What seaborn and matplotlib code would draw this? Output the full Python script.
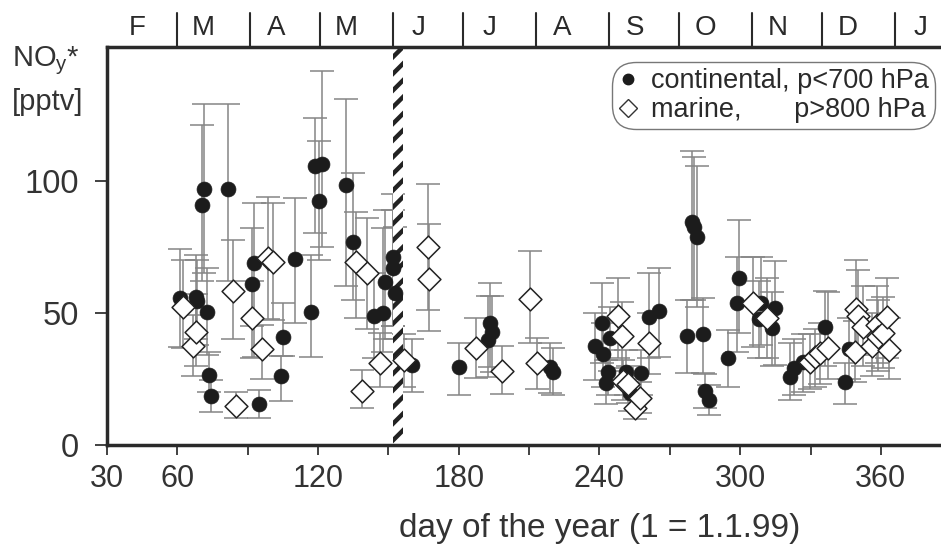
import numpy as np
import pandas as pd
import matplotlib
matplotlib.use("Agg")
import matplotlib.pyplot as plt
import matplotlib.transforms as mtransforms
from matplotlib.lines import Line2D
import seaborn as sns

# ---------------- data ----------------
cont_day = [61.1, 68.0, 68.4, 70.4, 71.4, 72.5, 73.4, 74.2, 81.5, 92.0, 92.7, 94.8,
            104.2, 104.9, 110.2, 117.0, 118.7, 120.5, 121.5, 131.9, 134.8, 144.0,
            147.9, 148.5, 152.1, 152.1, 152.8, 159.9, 180.2, 192.3, 193.3, 194.3,
            218.9, 220.3, 238.1, 240.9, 241.6, 242.8, 243.8, 244.5, 251.2, 253.0,
            257.7, 261.3, 265.4, 277.5, 279.6, 280.5, 281.5, 284.0, 285.1, 286.7,
            295.0, 298.8, 299.6, 308.1, 309.1, 313.7, 314.9, 321.3, 323.1, 326.9,
            336.2, 344.7, 346.4]
cont_val = [55.5, 56.0, 54.5, 90.7, 96.7, 50.4, 26.6, 18.5, 96.7, 61.0, 68.7, 15.4,
            26.0, 41.0, 70.3, 50.4, 105.5, 92.4, 106.3, 98.3, 76.9, 48.9,
            50.0, 61.5, 71.2, 67.0, 57.3, 30.2, 29.6, 39.7, 46.0, 42.8,
            29.6, 27.7, 37.6, 46.0, 34.4, 23.6, 27.7, 40.3, 27.7, 19.5,
            27.1, 48.5, 50.8, 41.2, 84.5, 82.5, 78.8, 41.9, 20.5, 17.0,
            33.0, 53.6, 63.3, 47.6, 53.6, 44.3, 51.9, 25.6, 29.2, 31.3,
            44.5, 23.9, 36.3]
cont_lo = [37.0, 40.0, 38.0, 62.0, 65.0, 34.0, 20.0, 12.6, 62.0, 45.0, 33.4, 10.2,
           16.6, 33.6, 46.2, 33.3, 80.0, 70.0, 75.0, 60.0, 55.0, 33.0,
           35.0, 40.0, 45.0, 45.0, 40.0, 20.2, 18.8, 25.7, 29.5, 27.5,
           19.5, 18.9, 24.6, 31.0, 22.0, 15.5, 19.0, 28.0, 19.0, 13.0,
           19.0, 33.0, 33.4, 27.3, 55.0, 54.8, 52.3, 27.1, 14.0, 11.3,
           21.8, 35.3, 42.2, 33.0, 38.0, 30.0, 30.2, 17.0, 19.0, 20.0,
           30.0, 15.5, 25.0]
cont_hi = [74.0, 72.0, 70.0, 121.0, 129.0, 67.0, 35.0, 24.6, 129.0, 82.0, 91.5, 20.8,
           33.6, 53.8, 93.3, 72.0, 123.5, 115.0, 141.4, 130.8, 102.7, 65.0,
           82.0, 89.0, 95.0, 89.0, 82.5, 40.0, 38.5, 56.4, 61.2, 56.4,
           38.5, 36.7, 50.0, 61.4, 46.0, 32.0, 36.0, 52.0, 36.0, 26.0,
           36.0, 64.9, 67.0, 54.8, 111.3, 109.0, 105.6, 55.6, 27.0, 22.7,
           43.5, 71.2, 85.0, 62.0, 71.0, 58.0, 69.6, 38.4, 40.0, 42.0,
           58.2, 31.1, 48.0]

mar_day = [62.5, 66.5, 67.9, 83.9, 85.0, 91.7, 96.0, 98.5, 100.7, 136.2, 138.6,
           140.7, 146.4, 156.7, 167.0, 167.4, 187.4, 198.6, 210.4, 213.2, 248.0,
           249.5, 250.2, 252.3, 255.2, 257.5, 261.3, 305.3, 311.3, 329.8, 331.9,
           334.1, 337.6, 349.0, 349.4, 350.4, 352.2, 356.1, 358.2, 358.9, 361.0,
           362.5, 363.6]
mar_val = [52.0, 37.5, 42.8, 58.3, 14.7, 48.2, 36.3, 70.6, 69.1, 69.2, 20.5,
           65.1, 31.1, 32.1, 75.0, 62.6, 36.5, 28.1, 55.2, 30.9, 48.8,
           41.2, 24.3, 23.0, 13.9, 17.7, 38.7, 53.8, 48.0, 31.5, 33.4,
           34.7, 36.8, 35.3, 51.4, 48.8, 44.7, 37.4, 45.4, 40.7, 42.5,
           48.3, 35.9]
mar_lo = [36.7, 26.0, 30.0, 40.0, 10.1, 33.0, 24.8, 47.5, 47.3, 48.0, 14.0,
          44.0, 21.8, 22.0, 51.0, 43.2, 25.2, 19.2, 38.4, 21.0, 33.0,
          29.0, 17.0, 16.0, 9.7, 12.0, 27.0, 37.0, 33.0, 21.0, 22.0,
          23.0, 25.0, 24.0, 35.0, 34.0, 30.0, 26.0, 31.0, 28.0, 29.0,
          33.0, 25.0]
mar_hi = [70.0, 49.0, 57.0, 77.5, 19.9, 62.0, 45.4, 93.9, 91.4, 88.0, 28.4,
          86.0, 42.2, 42.0, 98.7, 83.4, 47.9, 37.4, 73.5, 40.6, 63.0,
          54.0, 32.0, 30.0, 18.5, 24.0, 50.0, 71.0, 63.0, 42.0, 44.0,
          46.0, 58.0, 47.0, 70.0, 66.0, 60.0, 50.0, 60.0, 55.0, 56.0,
          63.0, 48.0]

month_letters = ["F", "M", "A", "M", "J", "J", "A", "S", "O", "N", "D", "J"]
month_starts = [32, 60, 91, 121, 152, 182, 213, 244, 274, 305, 335, 366]
xtick_days = [30, 60, 90, 120, 150, 180, 210, 240, 270, 300, 330, 360]
xtick_labels = ["30", "60", "", "120", "", "180", "", "240", "", "300", "", "360"]
ytick_vals = [0, 50, 100]
ytick_labels = ["0", "50", "100"]
mark_day = (151.8, 156.2)

label_cont = "continental, p<700 hPa"
label_mar = "marine,       p>800 hPa"

# ---------------- style ----------------
sns.set_theme(style="white")
plt.rcParams['font.family'] = ['Liberation Sans', 'DejaVu Sans']
plt.rcParams['hatch.linewidth'] = 3.2

cont = pd.DataFrame({"day": cont_day, "val": cont_val, "lo": cont_lo, "hi": cont_hi})
mar = pd.DataFrame({"day": mar_day, "val": mar_val, "lo": mar_lo, "hi": mar_hi})

fig = plt.figure(figsize=(9.41, 5.45), dpi=100)
ax = fig.add_axes([107 / 941, 1 - 445 / 545, (941 - 107) / 941, (445 - 47) / 545])

ebar_col = "#858585"
for df in (cont, mar):
    ax.errorbar(df["day"], df["val"], yerr=[df["val"] - df["lo"], df["hi"] - df["val"]],
                fmt="none", ecolor=ebar_col, elinewidth=1.1, capsize=8.5, capthick=1.1,
                zorder=2)

ax.axvspan(mark_day[0], mark_day[1], facecolor="white", edgecolor="#222222",
           hatch="//", linewidth=0, zorder=2.5)

sns.scatterplot(data=cont, x="day", y="val", ax=ax, marker="o", s=115,
                color="#1c1c1c", edgecolor="#1c1c1c", linewidth=0.5, zorder=3,
                legend=False)
sns.scatterplot(data=mar, x="day", y="val", ax=ax, marker="D", s=135,
                color="white", edgecolor="#222222", linewidth=1.1, zorder=4,
                legend=False)

ax.set_xlim(30, 30 + (941 - 107) / 2.345)
ax.set_ylim(0, 150.5)

ax.set_xticks(xtick_days)
ax.set_xticklabels(xtick_labels)
ax.set_yticks(ytick_vals)
ax.set_yticklabels(ytick_labels)
ax.set_yticks(np.arange(0, 151, 10), minor=True)
ax.tick_params(axis="x", which="major", direction="out", length=7, width=1.3,
               color="#333333", labelsize=22, labelcolor="#333333", pad=7)
ax.tick_params(axis="y", which="both", direction="out", length=9, width=1.3,
               color="#333333", labelsize=23.5, labelcolor="#333333", pad=11)
ax.tick_params(left=True, bottom=True)

for side in ("left", "bottom", "top"):
    ax.spines[side].set_linewidth(2.5)
    ax.spines[side].set_color("#2a2a2a")
ax.spines["right"].set_visible(False)

ax.set_xlabel("day of the year (1 = 1.1.99)", fontsize=24, color="#333333")
ax.set_ylabel("")
ax.xaxis.set_label_coords((600 - 107) / 834, -0.172)

# month bar on top
trans = mtransforms.blended_transform_factory(ax.transData, ax.transAxes)
for s in month_starts[1:]:
    ax.plot([s, s], [1.0, 1.085], transform=trans, clip_on=False,
            color="#2a2a2a", lw=1.5)
for s, L in zip(month_starts, month_letters):
    ax.text(s + 11, 1.048, L, transform=trans, ha="center", va="center",
            fontsize=20, color="#2a2a2a", clip_on=False)

# y label
fig.text(12 / 941, 1 - 66 / 545, r"NO$_\mathregular{y}$*", fontsize=21,
         color="#333333", ha="left", va="baseline")
fig.text(12 / 941, 1 - 110 / 545, "[pptv]", fontsize=21, color="#333333",
         ha="left", va="baseline")

# legend
handles = [
    Line2D([], [], marker="o", linestyle="none", markersize=7.5,
           markerfacecolor="#1c1c1c", markeredgecolor="#1c1c1c"),
    Line2D([], [], marker="D", linestyle="none", markersize=9,
           markerfacecolor="white", markeredgecolor="#333333", markeredgewidth=1.0),
]
leg = ax.legend(handles, [label_cont, label_mar], loc="upper right",
                bbox_to_anchor=(0.993, 0.962), fontsize=19.5, frameon=True,
                fancybox=True, handlelength=0.8, handletextpad=0.45,
                borderpad=0.22, labelspacing=0.12, borderaxespad=0)
frame = leg.get_frame()
frame.set_edgecolor("#555555")
frame.set_linewidth(1.0)
frame.set_boxstyle("round,pad=0.0,rounding_size=0.9")
for t in leg.get_texts():
    t.set_color("#2a2a2a")

fig.savefig("out.png", dpi=100, facecolor="white")
